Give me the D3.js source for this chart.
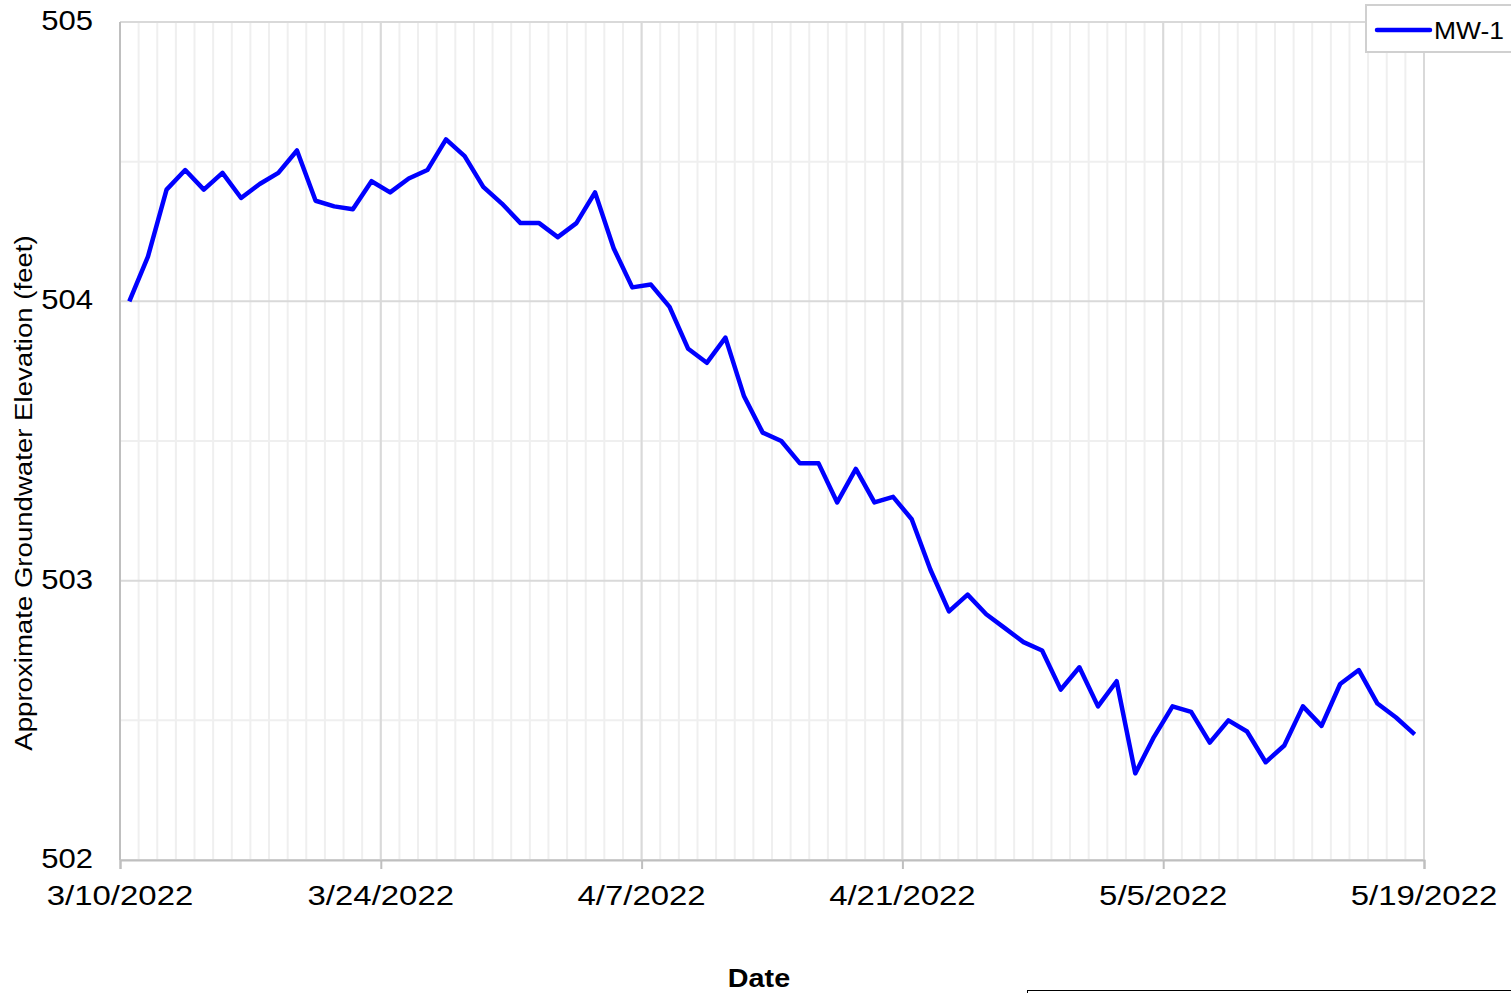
<!DOCTYPE html>
<html>
<head>
<meta charset="utf-8">
<script src="https://cdn.jsdelivr.net/npm/d3@7"></script>
<style>
  html, body { margin: 0; padding: 0; background: #fff; }
  svg { display: block; font-family: "Liberation Sans", Arial, sans-serif; }
</style>
</head>
<body>
<svg id="chart" width="1511" height="993"></svg>
<script>
// daily readings, MW-1
var dates = [
  "2022-03-10","2022-03-11","2022-03-12","2022-03-13","2022-03-14","2022-03-15","2022-03-16",
  "2022-03-17","2022-03-18","2022-03-19","2022-03-20","2022-03-21","2022-03-22","2022-03-23",
  "2022-03-24","2022-03-25","2022-03-26","2022-03-27","2022-03-28","2022-03-29","2022-03-30",
  "2022-03-31","2022-04-01","2022-04-02","2022-04-03","2022-04-04","2022-04-05","2022-04-06",
  "2022-04-07","2022-04-08","2022-04-09","2022-04-10","2022-04-11","2022-04-12","2022-04-13",
  "2022-04-14","2022-04-15","2022-04-16","2022-04-17","2022-04-18","2022-04-19","2022-04-20",
  "2022-04-21","2022-04-22","2022-04-23","2022-04-24","2022-04-25","2022-04-26","2022-04-27",
  "2022-04-28","2022-04-29","2022-04-30","2022-05-01","2022-05-02","2022-05-03","2022-05-04",
  "2022-05-05","2022-05-06","2022-05-07","2022-05-08","2022-05-09","2022-05-10","2022-05-11",
  "2022-05-12","2022-05-13","2022-05-14","2022-05-15","2022-05-16","2022-05-17","2022-05-18"
];
var mw1 = [
  504.00, 504.16, 504.40, 504.47, 504.40, 504.46, 504.37,
  504.42, 504.46, 504.54, 504.36, 504.34, 504.33, 504.43,
  504.39, 504.44, 504.47, 504.58, 504.52, 504.41, 504.35,
  504.28, 504.28, 504.23, 504.28, 504.39, 504.19, 504.05,
  504.06, 503.98, 503.83, 503.78, 503.87, 503.66, 503.53,
  503.50, 503.42, 503.42, 503.28, 503.40, 503.28, 503.30,
  503.22, 503.04, 502.89, 502.95, 502.88, 502.83, 502.78,
  502.75, 502.61, 502.69, 502.55, 502.64, 502.31, 502.44,
  502.55, 502.53, 502.42, 502.50, 502.46, 502.35, 502.41,
  502.55, 502.48, 502.63, 502.68, 502.56, 502.51, 502.45
];
var xTickLabels = ["3/10/2022", "3/24/2022", "4/7/2022", "4/21/2022", "5/5/2022", "5/19/2022"];
var yTicks = [502, 503, 504, 505];
var seriesName = "MW-1";

var drawChart = function() {
  var parse = d3.timeParse("%Y-%m-%d");
  var parseTick = d3.timeParse("%m/%d/%Y");

  var svg = d3.select("#chart");
  var plotLeft = 120, plotRight = 1424, plotTop = 22, plotBottom = 860;

  var x = d3.scaleTime()
    .domain([parseTick(xTickLabels[0]), parseTick(xTickLabels[xTickLabels.length - 1])])
    .range([plotLeft, plotRight]);
  var y = d3.scaleLinear().domain([502, 505]).range([plotBottom, plotTop]);

  // text is drawn a bit wider than Liberation Sans to match the original
  var addText = function(g, tx, ty, str, size, anchor, rot, stretch) {
    stretch = stretch || 1.15;
    return g.append("text")
      .attr("transform", "translate(" + tx + "," + ty + ")" + (rot ? " rotate(" + rot + ")" : "") + " scale(" + stretch + ",1)")
      .attr("text-anchor", anchor)
      .style("font-size", size + "px")
      .attr("fill", "#000")
      .text(str);
  }

  // grid
  var grid = svg.append("g");
  var days = d3.timeDay.range(x.domain()[0], d3.timeDay.offset(x.domain()[1], 1));
  grid.selectAll(".vminor").data(days).enter().append("line")
    .attr("x1", function(d) { return x(d); }).attr("x2", function(d) { return x(d); })
    .attr("y1", plotTop).attr("y2", plotBottom)
    .attr("stroke", "#efefef").attr("stroke-width", 2);
  grid.selectAll(".hminor").data(d3.range(502.5, 505, 1)).enter().append("line")
    .attr("x1", plotLeft).attr("x2", plotRight)
    .attr("y1", function(d) { return y(d); }).attr("y2", function(d) { return y(d); })
    .attr("stroke", "#efefef").attr("stroke-width", 2);
  var majorDates = xTickLabels.map(function(s) { return parseTick(s); });
  grid.selectAll(".vmajor").data(majorDates).enter().append("line")
    .attr("x1", function(d) { return x(d); }).attr("x2", function(d) { return x(d); })
    .attr("y1", plotTop).attr("y2", plotBottom)
    .attr("stroke", "#d9d9d9").attr("stroke-width", 2);
  grid.selectAll(".hmajor").data(yTicks).enter().append("line")
    .attr("x1", plotLeft).attr("x2", plotRight)
    .attr("y1", function(d) { return y(d); }).attr("y2", function(d) { return y(d); })
    .attr("stroke", "#d9d9d9").attr("stroke-width", 2);

  // axes
  var xAxis = svg.append("g").attr("transform", "translate(0," + plotBottom + ")")
    .call(d3.axisBottom(x).tickValues(majorDates).tickSize(9).tickFormat(""));
  xAxis.select(".domain").attr("stroke", "#bfbfbf").attr("stroke-width", 2);
  xAxis.selectAll(".tick line").attr("stroke", "#bfbfbf").attr("stroke-width", 2);
  svg.append("line")
    .attr("x1", plotLeft).attr("x2", plotLeft).attr("y1", plotTop).attr("y2", plotBottom)
    .attr("stroke", "#bfbfbf").attr("stroke-width", 2);

  var labels = svg.append("g");
  majorDates.forEach(function(d, i) {
    addText(labels, x(d), 905, xTickLabels[i], 27, "middle", 0, 1.22);
  });
  yTicks.forEach(function(v) {
    addText(labels, 93, y(v) + 8, v, 27, "end");
  });

  addText(labels, 32, 493, "Approximate Groundwater Elevation (feet)", 24, "middle", -90);
  addText(labels, 759, 987, "Date", 25, "middle").style("font-weight", "bold");

  // series
  var points = dates.map(function(s, i) { return { date: d3.timeHour.offset(parse(s), 12), value: mw1[i] }; });
  var line = d3.line()
    .x(function(d) { return x(d.date); })
    .y(function(d) { return y(d.value); });
  svg.append("path")
    .datum(points)
    .attr("d", line)
    .attr("fill", "none")
    .attr("stroke", "#0000ff")
    .attr("stroke-width", 4.5)
    .attr("stroke-linejoin", "round");

  // legend
  var legend = svg.append("g");
  legend.append("rect")
    .attr("x", 1366).attr("y", 5).attr("width", 160).attr("height", 47)
    .attr("fill", "#fff").attr("stroke", "#d0d0d0").attr("stroke-width", 2);
  legend.append("line")
    .attr("x1", 1377).attr("x2", 1430).attr("y1", 30).attr("y2", 30)
    .attr("stroke", "#0000ff").attr("stroke-width", 4.5).attr("stroke-linecap", "round");
  addText(legend, 1434, 39, seriesName, 24, "start", 0, 1.1);

  // box edge cut off at the bottom of the page
  svg.append("rect")
    .attr("x", 1027.5).attr("y", 990.5).attr("width", 500).attr("height", 20)
    .attr("fill", "none").attr("stroke", "#000").attr("stroke-width", 1);
}

drawChart();
</script>
</body>
</html>
